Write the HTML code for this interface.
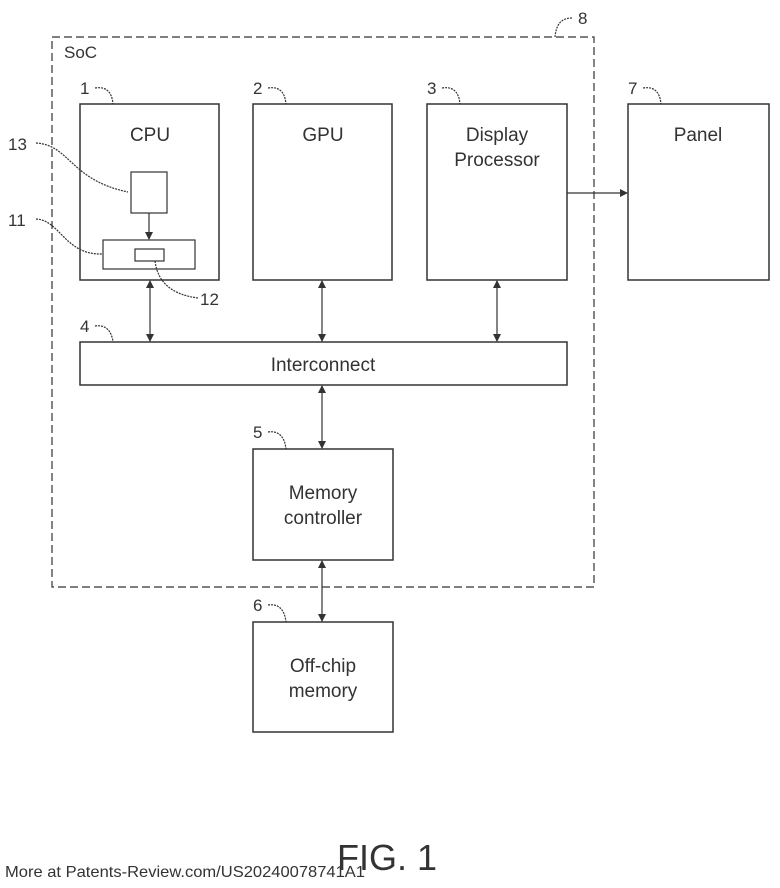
<!DOCTYPE html>
<html><head><style>body{margin:0;background:#fff}svg{display:block}</style></head><body>
<svg width="780" height="888" viewBox="0 0 780 888" xmlns="http://www.w3.org/2000/svg" font-family="Liberation Sans, sans-serif" fill="none" stroke="#333">
<defs>
<marker id="a" markerWidth="8" markerHeight="8" refX="7" refY="4" orient="auto-start-reverse" markerUnits="userSpaceOnUse"><path d="M0,0 L8,4 L0,8 z" fill="#333" stroke="none"/></marker>
</defs>
<rect x="52" y="37" width="542" height="550" stroke-dasharray="8,4" stroke-width="1.2"/>
<g stroke-width="1.5" fill="#fff">
<rect x="80" y="104" width="139" height="176"/>
<rect x="253" y="104" width="139" height="176"/>
<rect x="427" y="104" width="140" height="176"/>
<rect x="628" y="104" width="141" height="176"/>
<rect x="80" y="342" width="487" height="43"/>
<rect x="253" y="449" width="140" height="111"/>
<rect x="253" y="622" width="140" height="110"/>
</g>
<g stroke-width="1.2">
<rect x="131" y="172" width="36" height="41"/>
<rect x="103" y="240" width="92" height="29"/>
<rect x="135" y="249" width="29" height="12"/>
<line x1="149" y1="213" x2="149" y2="239" marker-end="url(#a)"/>
<line x1="150" y1="281" x2="150" y2="341" marker-start="url(#a)" marker-end="url(#a)"/>
<line x1="322" y1="281" x2="322" y2="341" marker-start="url(#a)" marker-end="url(#a)"/>
<line x1="497" y1="281" x2="497" y2="341" marker-start="url(#a)" marker-end="url(#a)"/>
<line x1="322" y1="386" x2="322" y2="448" marker-start="url(#a)" marker-end="url(#a)"/>
<line x1="322" y1="561" x2="322" y2="621" marker-start="url(#a)" marker-end="url(#a)"/>
<line x1="567" y1="193" x2="627" y2="193" marker-end="url(#a)"/>
<path d="M36,143 C70,145 70,180 128,192" stroke-dasharray="2,1"/>
<path d="M36,219 C60,220 65,255 102,254" stroke-dasharray="2,1"/>
<path d="M155,261 C158,285 175,295 198,298" stroke-dasharray="2,1"/>
<path d="M95,88 C108,86 112,94 113,104" stroke-dasharray="2,1"/>
<path d="M268,88 C281,86 285,94 286,104" stroke-dasharray="2,1"/>
<path d="M442,88 C455,86 459,94 460,104" stroke-dasharray="2,1"/>
<path d="M643,88 C656,86 660,94 661,104" stroke-dasharray="2,1"/>
<path d="M95,326 C108,324 112,334 113,342" stroke-dasharray="2,1"/>
<path d="M268,432 C281,430 285,440 286,449" stroke-dasharray="2,1"/>
<path d="M268,605 C281,603 285,613 286,622" stroke-dasharray="2,1"/>
<path d="M572,18 C560,18 556,26 555,37" stroke-dasharray="2,1"/>
</g>
<g fill="#333" stroke="none" font-size="19">
<text x="64" y="58" font-size="17">SoC</text>
<text x="150" y="141" text-anchor="middle">CPU</text>
<text x="323" y="141" text-anchor="middle">GPU</text>
<text x="497" y="141" text-anchor="middle">Display</text>
<text x="497" y="166" text-anchor="middle">Processor</text>
<text x="698" y="141" text-anchor="middle">Panel</text>
<text x="323" y="371" text-anchor="middle">Interconnect</text>
<text x="323" y="499" text-anchor="middle">Memory</text>
<text x="323" y="524" text-anchor="middle">controller</text>
<text x="323" y="672" text-anchor="middle">Off-chip</text>
<text x="323" y="697" text-anchor="middle">memory</text>
<g font-size="17">
<text x="80" y="94">1</text><text x="253" y="94">2</text><text x="427" y="94">3</text><text x="628" y="94">7</text>
<text x="578" y="24">8</text><text x="80" y="332">4</text><text x="253" y="438">5</text><text x="253" y="611">6</text>
<text x="8" y="150">13</text><text x="8" y="226">11</text><text x="200" y="305">12</text>
</g>
<text x="337" y="870" font-size="36">FIG. 1</text>
<text x="5" y="877" font-size="16" textLength="360" lengthAdjust="spacingAndGlyphs">More at Patents-Review.com/US20240078741A1</text>
</g>
</svg>
</body></html>
